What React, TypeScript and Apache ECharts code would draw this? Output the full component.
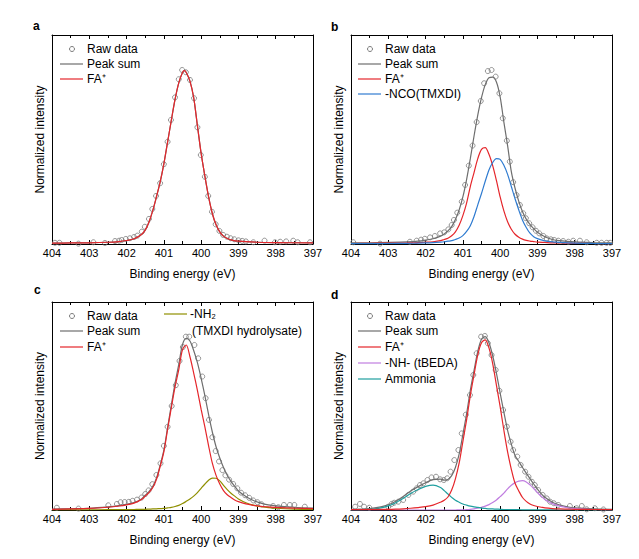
import React, { useEffect, useRef } from "react";
import * as echarts from "echarts";

// ---------- DATA (binding energy in eV, normalized intensity) ----------
const rawA: number[][] = [
  [403.92, 0.007], [403.8, 0.007], [403.29, 0.002], [402.89, 0.01], [402.58, 0.006], [402.31, 0.017], [402.2, 0.019],
  [402.13, 0.023], [402.02, 0.029], [401.91, 0.033], [401.8, 0.04], [401.71, 0.048], [401.59, 0.071], [401.51, 0.099],
  [401.4, 0.144], [401.31, 0.201], [401.21, 0.276], [401.1, 0.349], [401.0, 0.458], [400.9, 0.587], [400.81, 0.712],
  [400.7, 0.842], [400.6, 0.946], [400.51, 0.999], [400.41, 0.986], [400.3, 0.942], [400.19, 0.837], [400.1, 0.67],
  [400.01, 0.511], [399.9, 0.386], [399.81, 0.276], [399.71, 0.185], [399.61, 0.113], [399.51, 0.075], [399.41, 0.052],
  [399.31, 0.042], [399.21, 0.033], [399.11, 0.027], [399.0, 0.021], [398.9, 0.018], [398.8, 0.015], [398.6, 0.01],
  [398.3, 0.019], [398.02, 0.01], [397.88, 0.013], [397.72, 0.015], [397.53, 0.019], [397.41, 0.01], [397.08, 0.01],
];
const gridA = [404, 403.5, 403, 402.5, 402.2, 402, 401.8, 401.6, 401.5, 401.4, 401.3, 401.2, 401.1, 401.0, 400.9, 400.8,
  400.7, 400.6, 400.5, 400.45, 400.4, 400.3, 400.2, 400.1, 400.0, 399.9, 399.8, 399.7, 399.6, 399.5, 399.4, 399.3, 399.2,
  399.0, 398.5, 398, 397];
const faA = [0.005, 0.006, 0.007, 0.01, 0.014, 0.02, 0.03, 0.055, 0.08, 0.125, 0.19, 0.27, 0.355, 0.46, 0.585, 0.71,
  0.83, 0.925, 0.985, 0.995, 0.985, 0.935, 0.84, 0.68, 0.52, 0.39, 0.27, 0.175, 0.11, 0.07, 0.045, 0.032, 0.024,
  0.016, 0.01, 0.008, 0.006];

const rawB: number[][] = [
  [403.94, 0.01], [403.22, 0.002], [402.42, 0.013], [402.24, 0.019], [402.12, 0.025], [402.02, 0.03], [401.88, 0.038],
  [401.75, 0.046], [401.61, 0.061], [401.5, 0.067], [401.39, 0.084], [401.3, 0.109], [401.24, 0.138], [401.15, 0.18],
  [401.03, 0.243], [400.94, 0.339], [400.84, 0.45], [400.74, 0.565], [400.63, 0.7], [400.52, 0.821], [400.43, 0.923],
  [400.33, 0.993], [400.23, 0.999], [400.12, 0.961], [400.02, 0.865], [399.93, 0.722], [399.82, 0.593], [399.74, 0.473],
  [399.65, 0.355], [399.56, 0.281], [399.47, 0.224], [399.38, 0.176], [399.31, 0.148], [399.22, 0.119], [399.13, 0.096],
  [399.04, 0.076], [398.95, 0.061], [398.84, 0.046], [398.75, 0.032], [398.64, 0.027], [398.55, 0.023], [398.44, 0.019],
  [398.31, 0.017], [398.17, 0.013], [398.04, 0.019], [397.86, 0.019], [397.68, 0.01], [397.41, 0.007], [397.28, 0.007],
  [397.14, 0.007], [397.05, 0.007],
];
const gridB = [404, 403.5, 403, 402.5, 402.2, 402, 401.8, 401.6, 401.5, 401.4, 401.3, 401.2, 401.1, 401.0, 400.9, 400.8,
  400.7, 400.6, 400.5, 400.4, 400.3, 400.2, 400.1, 400.0, 399.9, 399.8, 399.7, 399.6, 399.5, 399.4, 399.3, 399.2, 399.1,
  399.0, 398.8, 398.6, 398.4, 398, 397.5, 397];
const sumB = [0.006, 0.007, 0.009, 0.012, 0.016, 0.022, 0.03, 0.045, 0.058, 0.075, 0.1, 0.14, 0.195, 0.27, 0.37, 0.49,
  0.62, 0.74, 0.84, 0.915, 0.955, 0.958, 0.93, 0.845, 0.7, 0.565, 0.415, 0.32, 0.245, 0.185, 0.143, 0.112, 0.088, 0.068,
  0.042, 0.026, 0.019, 0.012, 0.008, 0.006];
const faB = [0.003, 0.004, 0.005, 0.006, 0.008, 0.01, 0.013, 0.019, 0.026, 0.033, 0.047, 0.07, 0.108, 0.163, 0.235, 0.33,
  0.41, 0.49, 0.543, 0.553, 0.515, 0.45, 0.365, 0.27, 0.19, 0.128, 0.085, 0.056, 0.039, 0.028, 0.021, 0.017, 0.014,
  0.011, 0.009, 0.007, 0.006, 0.004, 0.003, 0.002];
const ncoB = [0.002, 0.002, 0.003, 0.004, 0.005, 0.006, 0.008, 0.011, 0.013, 0.016, 0.019, 0.026, 0.034, 0.048, 0.072,
  0.105, 0.158, 0.225, 0.29, 0.36, 0.425, 0.468, 0.49, 0.486, 0.452, 0.4, 0.33, 0.26, 0.195, 0.137, 0.095, 0.062, 0.042,
  0.031, 0.018, 0.012, 0.009, 0.005, 0.003, 0.002];

const rawC: number[][] = [
  [403.87, 0.013], [403.29, 0.008], [402.49, 0.027], [402.26, 0.035], [402.16, 0.045], [402.05, 0.046], [401.94, 0.047],
  [401.84, 0.053], [401.72, 0.06], [401.6, 0.072], [401.5, 0.092], [401.41, 0.113], [401.31, 0.149], [401.2, 0.202],
  [401.09, 0.269], [401.0, 0.37], [400.9, 0.48], [400.79, 0.6], [400.68, 0.72], [400.58, 0.86], [400.49, 0.94],
  [400.41, 1.0], [400.32, 1.0], [400.18, 0.952], [400.08, 0.875], [399.97, 0.77], [399.88, 0.645], [399.79, 0.52],
  [399.7, 0.42], [399.61, 0.34], [399.52, 0.28], [399.43, 0.23], [399.35, 0.2], [399.25, 0.175], [399.14, 0.15],
  [399.03, 0.125], [398.93, 0.1], [398.82, 0.085], [398.71, 0.07], [398.6, 0.055], [398.49, 0.045], [398.38, 0.033],
  [398.07, 0.023], [397.93, 0.016], [397.78, 0.029], [397.62, 0.029], [397.5, 0.029], [397.22, 0.019],
];
const gridC = [404, 403.5, 403, 402.5, 402.2, 402, 401.8, 401.6, 401.5, 401.4, 401.3, 401.2, 401.1, 401.0, 400.9, 400.8,
  400.7, 400.6, 400.5, 400.4, 400.3, 400.2, 400.1, 400.0, 399.9, 399.8, 399.7, 399.6, 399.5, 399.4, 399.3, 399.2, 399.1,
  399.0, 398.8, 398.6, 398.4, 398.2, 398, 397.5, 397];
const sumC = [0.005, 0.007, 0.01, 0.018, 0.025, 0.032, 0.043, 0.064, 0.085, 0.106, 0.135, 0.183, 0.258, 0.345, 0.475,
  0.605, 0.73, 0.84, 0.955, 0.99, 0.975, 0.92, 0.85, 0.76, 0.66, 0.55, 0.45, 0.365, 0.3, 0.245, 0.2, 0.165, 0.137, 0.11,
  0.078, 0.055, 0.04, 0.03, 0.024, 0.016, 0.011];
const faC = [0.004, 0.006, 0.009, 0.016, 0.023, 0.03, 0.04, 0.06, 0.08, 0.1, 0.128, 0.175, 0.25, 0.335, 0.465, 0.59,
  0.71, 0.81, 0.925, 0.952, 0.884, 0.79, 0.69, 0.58, 0.48, 0.37, 0.27, 0.2, 0.15, 0.112, 0.088, 0.072, 0.058, 0.048,
  0.035, 0.027, 0.021, 0.018, 0.015, 0.011, 0.008];
const nh2C = [0, 0.001, 0.001, 0.002, 0.002, 0.002, 0.003, 0.004, 0.004, 0.005, 0.006, 0.007, 0.008, 0.009, 0.012,
  0.015, 0.02, 0.027, 0.037, 0.05, 0.064, 0.08, 0.1, 0.125, 0.15, 0.172, 0.184, 0.183, 0.168, 0.142, 0.118, 0.097, 0.08,
  0.064, 0.042, 0.028, 0.019, 0.014, 0.01, 0.005, 0.003];

const rawD: number[][] = [
  [403.89, 0.019], [403.76, 0.035], [403.65, 0.019], [403.51, 0.013], [403.0, 0.019], [402.91, 0.035], [402.84, 0.042],
  [402.73, 0.048], [402.6, 0.058], [402.46, 0.087], [402.33, 0.106], [402.24, 0.125], [402.15, 0.144], [402.06, 0.154],
  [401.95, 0.173], [401.84, 0.188], [401.72, 0.192], [401.61, 0.177], [401.51, 0.173], [401.42, 0.183], [401.33, 0.221],
  [401.23, 0.288], [401.12, 0.346], [401.03, 0.442], [400.92, 0.55], [400.81, 0.663], [400.72, 0.779], [400.63, 0.904],
  [400.51, 1.0], [400.41, 1.004], [400.33, 0.962], [400.23, 0.894], [400.12, 0.808], [400.02, 0.688], [399.92, 0.577],
  [399.82, 0.481], [399.72, 0.394], [399.65, 0.346], [399.54, 0.308], [399.45, 0.26], [399.33, 0.221], [399.24, 0.192],
  [399.15, 0.163], [399.07, 0.144], [398.98, 0.115], [398.86, 0.087], [398.75, 0.067], [398.66, 0.048], [398.56, 0.039],
  [398.44, 0.029], [398.13, 0.023], [397.95, 0.01], [397.81, 0.023], [397.68, 0.004], [397.46, 0.01], [397.23, 0.003],
];
const gridD = [404, 403.5, 403.2, 403, 402.8, 402.6, 402.4, 402.2, 402, 401.8, 401.6, 401.5, 401.4, 401.3, 401.2, 401.1,
  401.0, 400.9, 400.8, 400.7, 400.6, 400.5, 400.4, 400.3, 400.2, 400.1, 400.0, 399.9, 399.8, 399.7, 399.6, 399.5, 399.4,
  399.3, 399.2, 399.1, 399.0, 398.9, 398.8, 398.6, 398.4, 398.2, 398, 397.5, 397];
const sumD = [0.004, 0.008, 0.018, 0.03, 0.05, 0.078, 0.11, 0.135, 0.157, 0.175, 0.178, 0.172, 0.176, 0.198, 0.245,
  0.322, 0.435, 0.555, 0.69, 0.805, 0.915, 0.985, 1.0, 0.965, 0.89, 0.79, 0.675, 0.565, 0.46, 0.38, 0.315, 0.28, 0.245,
  0.213, 0.181, 0.15, 0.12, 0.095, 0.073, 0.045, 0.028, 0.018, 0.012, 0.006, 0.004];
const faD = [0.002, 0.003, 0.004, 0.004, 0.005, 0.007, 0.01, 0.014, 0.019, 0.028, 0.045, 0.056, 0.075, 0.115, 0.18,
  0.27, 0.395, 0.52, 0.66, 0.78, 0.895, 0.965, 0.982, 0.935, 0.845, 0.72, 0.596, 0.46, 0.335, 0.235, 0.154, 0.11, 0.072,
  0.05, 0.035, 0.026, 0.02, 0.016, 0.012, 0.008, 0.006, 0.005, 0.004, 0.003, 0.002];
const nhD = [0, 0, 0, 0, 0, 0, 0, 0, 0, 0, 0, 0, 0, 0, 0, 0.001, 0.001, 0.002, 0.004, 0.007, 0.011, 0.016, 0.022,
  0.031, 0.043, 0.058, 0.077, 0.097, 0.122, 0.143, 0.158, 0.167, 0.169, 0.162, 0.145, 0.124, 0.1, 0.079, 0.061, 0.037,
  0.022, 0.013, 0.008, 0.003, 0.001];
const ammoniaD = [0, 0.003, 0.012, 0.024, 0.042, 0.067, 0.095, 0.118, 0.136, 0.144, 0.13, 0.112, 0.092, 0.073, 0.056,
  0.045, 0.035, 0.028, 0.022, 0.018, 0.015, 0.011, 0.009, 0.007, 0.006, 0.005, 0.004, 0.003, 0.003, 0.002, 0.002, 0.002,
  0.001, 0.001, 0.001, 0.001, 0.001, 0.001, 0.001, 0.001, 0, 0, 0, 0, 0];

// ---------- STYLE ----------
const FONT = '"Liberation Sans", Arial, Helvetica, sans-serif';
const C_RAW = "#7a7a7a";
const C_SUM = "#6e6e6e";
const C_FA = "#e5262b";
const C_NCO = "#2f7bd0";
const C_NH2 = "#8f8f00";
const C_NH = "#c07ee0";
const C_NH3 = "#1f9f9f";

const panels = [
  { left: 52, top: 35, width: 261, height: 209 },
  { left: 351, top: 35, width: 261, height: 209 },
  { left: 52, top: 302, width: 261, height: 208 },
  { left: 351, top: 302, width: 261, height: 208 },
];

function zip(xs: number[], ys: number[]) {
  return xs.map((x, i) => [x, ys[i]]);
}

function buildOption() {
  const grid = panels.map((p) => ({ ...p, containLabel: false }));
  const xAxis: any[] = [];
  const yAxis: any[] = [];
  panels.forEach((_, i) => {
    const base = {
      gridIndex: i,
      type: "value",
      min: 397,
      max: 404,
      interval: 1,
      inverse: true,
      splitLine: { show: false },
      axisLine: { show: true, onZero: false, lineStyle: { color: "#000", width: 1 } },
      axisTick: { show: true, inside: true, length: 4, lineStyle: { color: "#000" } },
      minorTick: { show: true, splitNumber: 2, length: 3, lineStyle: { color: "#000" } },
    };
    xAxis.push({
      ...base,
      position: "bottom",
      axisLabel: { show: true, fontSize: 11, color: "#000", margin: 3, fontFamily: FONT },
      name: "Binding energy (eV)",
      nameLocation: "middle",
      nameGap: 24,
      nameTextStyle: { fontSize: 12, color: "#000", fontFamily: FONT },
    });
    xAxis.push({ ...base, position: "top", axisLabel: { show: false } });
    yAxis.push({
      gridIndex: i,
      type: "value",
      min: 0,
      max: 1.2,
      position: "left",
      splitLine: { show: false },
      axisLine: { show: true, onZero: false, lineStyle: { color: "#000", width: 1 } },
      axisTick: { show: false },
      axisLabel: { show: false },
      name: "Normalized intensity",
      nameLocation: "middle",
      nameGap: 6,
      nameTextStyle: { fontSize: 12, color: "#000", fontFamily: FONT },
    });
    yAxis.push({
      gridIndex: i,
      type: "value",
      min: 0,
      max: 1.2,
      position: "right",
      splitLine: { show: false },
      axisLine: { show: true, onZero: false, lineStyle: { color: "#000", width: 1 } },
      axisTick: { show: false },
      axisLabel: { show: false },
    });
  });

  const scatter = (i: number, data: number[][]) => ({
    type: "scatter",
    xAxisIndex: i * 2,
    yAxisIndex: i * 2,
    data,
    symbol: "circle",
    symbolSize: 5,
    itemStyle: { color: "rgba(255,255,255,0)", borderColor: C_RAW, borderWidth: 1 },
    silent: true,
  });
  const line = (i: number, xs: number[], ys: number[], color: string) => ({
    type: "line",
    xAxisIndex: i * 2,
    yAxisIndex: i * 2,
    data: zip(xs, ys),
    showSymbol: false,
    smooth: 0.3,
    lineStyle: { color, width: 1.2 },
    silent: true,
  });

  const series = [
    scatter(0, rawA),
    line(0, gridA, faA, C_SUM),
    line(0, gridA, faA, C_FA),
    scatter(1, rawB),
    line(1, gridB, sumB, C_SUM),
    line(1, gridB, faB, C_FA),
    line(1, gridB, ncoB, C_NCO),
    scatter(2, rawC),
    line(2, gridC, sumC, C_SUM),
    line(2, gridC, nh2C, C_NH2),
    line(2, gridC, faC, C_FA),
    scatter(3, rawD),
    line(3, gridD, sumD, C_SUM),
    line(3, gridD, nhD, C_NH),
    line(3, gridD, ammoniaD, C_NH3),
    line(3, gridD, faD, C_FA),
  ];

  const txt = (x: number, y: number, text: string, size = 12, weight = "normal") => ({
    type: "text",
    x,
    y,
    silent: true,
    style: { text, fontSize: size, fontFamily: FONT, fontWeight: weight, fill: "#000", align: "left", verticalAlign: "middle" },
  });
  const seg = (x1: number, x2: number, y: number, color: string) => ({
    type: "line",
    silent: true,
    shape: { x1, y1: y, x2, y2: y },
    style: { stroke: color, lineWidth: 1.2 },
  });
  const dot = (cx: number, cy: number) => ({
    type: "circle",
    silent: true,
    shape: { cx, cy, r: 2.5 },
    style: { fill: "none", stroke: C_RAW, lineWidth: 1 },
  });

  const legend = (lx: number, rows: number[], items: { label: string; color?: string }[]) => {
    const out: any[] = [];
    items.forEach((it, k) => {
      const y = rows[k];
      if (!it.color) out.push(dot(lx + 12, y));
      else out.push(seg(lx, lx + 23, y, it.color));
      out.push(txt(lx + 27, y, it.label));
    });
    return out;
  };

  const graphic: any[] = [
    txt(33, 26, "a", 12, "bold"),
    txt(331, 27, "b", 12, "bold"),
    txt(34, 290, "c", 12, "bold"),
    txt(331, 295, "d", 12, "bold"),
    ...legend(60, [49, 64, 79], [
      { label: "Raw data" },
      { label: "Peak sum", color: C_SUM },
      { label: "FA⁺", color: C_FA },
    ]),
    ...legend(358, [49, 64, 79, 94], [
      { label: "Raw data" },
      { label: "Peak sum", color: C_SUM },
      { label: "FA⁺", color: C_FA },
      { label: "-NCO(TMXDI)", color: C_NCO },
    ]),
    ...legend(60, [316, 331, 347], [
      { label: "Raw data" },
      { label: "Peak sum", color: C_SUM },
      { label: "FA⁺", color: C_FA },
    ]),
    seg(164, 187, 314, C_NH2),
    txt(190, 314, "-NH₂"),
    txt(192, 331, "(TMXDI hydrolysate)"),
    ...legend(358, [316, 331, 347, 363, 379], [
      { label: "Raw data" },
      { label: "Peak sum", color: C_SUM },
      { label: "FA⁺", color: C_FA },
      { label: "-NH- (tBEDA)", color: C_NH },
      { label: "Ammonia", color: C_NH3 },
    ]),
  ];

  return {
    animation: false,
    backgroundColor: "#fff",
    textStyle: { fontFamily: FONT },
    grid,
    xAxis,
    yAxis,
    series,
    graphic,
  };
}

export default function App() {
  const ref = useRef<HTMLDivElement>(null);
  useEffect(() => {
    if (!ref.current) return;
    const chart = echarts.init(ref.current, undefined, { renderer: "svg" });
    chart.setOption(buildOption() as any);
    return () => chart.dispose();
  }, []);
  return (
    <div
      ref={ref}
      style={{ position: "fixed", left: 0, top: 0, width: 639, height: 559, background: "#fff" }}
    />
  );
}
